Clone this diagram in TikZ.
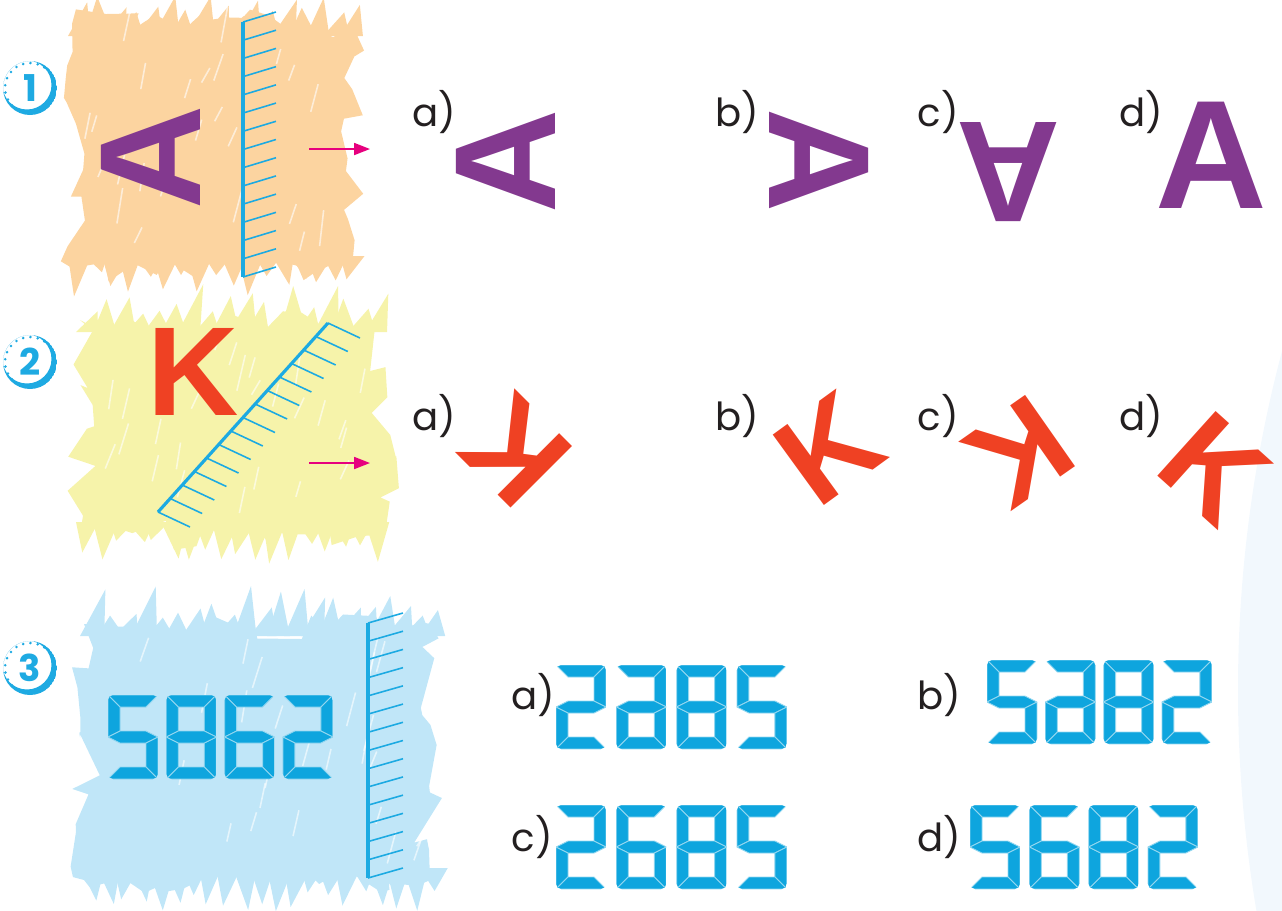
\documentclass[tikz,border=0pt]{standalone}
\usepackage{fontspec}
\setmainfont{Poppins}
\newfontfamily\letfont{Liberation Sans}
\usetikzlibrary{arrows.meta,calc,decorations.pathmorphing}
\definecolor{APurple}{RGB}{131,57,143}
\definecolor{KRed}{RGB}{239,65,35}
\definecolor{SegBlue}{RGB}{14,165,222}
\definecolor{MirBlue}{RGB}{28,170,226}
\definecolor{ArrMag}{RGB}{230,0,126}
\definecolor{NumBlue}{RGB}{30,170,226}
\definecolor{BgOrange}{RGB}{252,212,160}
\definecolor{BgYellow}{RGB}{246,243,170}
\definecolor{BgBlue}{RGB}{192,230,248}
\definecolor{FaintBlue}{RGB}{242,248,253}
\definecolor{LabGray}{RGB}{35,31,32}
\tikzset{
	mirror/.style={draw=MirBlue, line width=0.9pt},
	hatch/.style={draw=MirBlue, line width=0.45pt},
	look/.style={draw=ArrMag, line width=0.5pt, -{Triangle[length=4.5pt, width=3.4pt]}},
	lab/.style={anchor=base west, inner sep=0pt, text=LabGray, font=\fontsize{11}{13}\selectfont},
	bigA/.style={text=APurple, inner sep=0pt, font=\letfont\bfseries\fontsize{41}{41}\selectfont},
	bigK/.style={text=KRed, inner sep=0pt, font=\letfont\bfseries\fontsize{36}{36}\selectfont},
	seg/.style={fill=SegBlue, draw=white!55!SegBlue, line width=0.25pt},
	scrib/.style={decorate, decoration={random steps, segment length=5pt, amplitude=4.5pt}},
	streak/.style={draw=white, line width=0.45pt, opacity=.6},
	numtext/.style={text=NumBlue, inner sep=0pt, font=\bfseries\fontsize{10.5}{12}\selectfont}
}
% seven segment pieces, local pixels (y down)
\newcommand{\sega}{(0,0) -- (50,0) -- (38,12) -- (12,12) -- cycle}
\newcommand{\segb}{(50,0) -- (50,42) -- (38,36) -- (38,12) -- cycle}
\newcommand{\segc}{(50,42) -- (50,84) -- (38,72) -- (38,48) -- cycle}
\newcommand{\segd}{(0,84) -- (12,72) -- (38,72) -- (50,84) -- cycle}
\newcommand{\sege}{(0,42) -- (12,48) -- (12,72) -- (0,84) -- cycle}
\newcommand{\segf}{(0,0) -- (12,12) -- (12,36) -- (0,42) -- cycle}
\newcommand{\segg}{(0,42) -- (12,36) -- (38,36) -- (50,42) -- (38,48) -- (12,48) -- cycle}
\newcommand{\dtwo}{a,b,g,e,d}
\newcommand{\dfive}{a,f,g,c,d}
\newcommand{\dsix}{a,f,g,e,c,d}
\newcommand{\dmsix}{a,b,g,c,d,e}
\newcommand{\deight}{a,b,c,d,e,f,g}
\newcommand{\lcd}[3]{%
	\begin{scope}[shift={(#1,#2)}]
		\clip[rounded corners=1.5pt] (0,0) rectangle (50,84);
		\foreach \s in #3 {\path[seg] \csname seg\s\endcsname;}
	\end{scope}}
\newcommand{\lcdrow}[7]{%
	\lcd{#1}{#2}{#4}\lcd{#1+#3}{#2}{#5}\lcd{#1+2*#3}{#2}{#6}\lcd{#1+3*#3}{#2}{#7}}
\newcommand{\numdisc}[4]{%
	\begin{scope}
		\clip (#2,#3) circle (27);
		\fill[NumBlue, even odd rule] (#2,#3) circle (27) ($(#2,#3)+(-3,-3)$) circle (24.5);
	\end{scope}
	\draw[NumBlue, line width=0.8pt, line cap=round, dash pattern=on 0pt off 2.1pt] (#2,#3) circle (25);
	\node[numtext] (#1) at (#2,#3) {#4};}
% crayon patch: colour, left, top, width, bottom
\newcommand{\crayon}[5]{%
	\fill[#1, scrib] (#2,#3) rectangle ({#2+#4},#5);
	\foreach \p in {0,17,...,#4}{
		\fill[#1] ({#2+\p-4},{#3+12}) -- ({#2+\p+8+14*rnd},{#3-4-34*rnd}) -- ({#2+\p+18+6*rnd},{#3+12}) -- cycle;
		\fill[#1] ({#2+\p-4},{#5-12}) -- ({#2+\p+2+12*rnd},{#5+4+28*rnd}) -- ({#2+\p+18+6*rnd},{#5-12}) -- cycle;
	}
	\foreach \i in {1,...,26}{
		\draw[streak] ({#2+10+(#4-20)*rnd},{#3+15+(#5-#3-30)*rnd}) -- ++({4+6*rnd},{-14-22*rnd});
	}}

\begin{document}
\begin{tikzpicture}[x=0.1mm, y=-0.1mm]
	\useasboundingbox (0,0) rectangle (1282,910);
	\fill[FaintBlue] (2555,690) circle (1317);

	\pgfmathsetseed{11}
	\crayon{BgOrange}{72}{24}{280}{268}
	\crayon{BgYellow}{80}{320}{305}{534}
	\crayon{BgBlue}{84}{624}{346}{880}

	% mirrors
	\coordinate (m1t) at (243,22);
	\coordinate (m1b) at (243,277);
	\coordinate (m2t) at (328,323);
	\coordinate (m2b) at (158,512);
	\coordinate (m3t) at (368,623);
	\coordinate (m3b) at (368,878);
	\foreach \k in {0,...,14}{
		\draw[hatch] ($(m1t)!\k/14!(m1b)$) -- ++(33,-10);
		\draw[hatch] ($(m2t)!\k/14!(m2b)$) -- ++(32,15);
		\draw[hatch] ($(m3t)!\k/14!(m3b)$) -- ++(35,-10);
	}
	\draw[mirror] (m1t) -- (m1b);
	\draw[mirror] (m2t) -- (m2b);
	\draw[mirror] (m3t) -- (m3b);

	\coordinate (look1s) at (309,149);
	\coordinate (look1e) at (370,149);
	\coordinate (look2s) at (309,463);
	\coordinate (look2e) at (370,463);
	\draw[look] (look1s) -- (look1e);
	\draw[look] (look2s) -- (look2e);

	% task 1
	\numdisc{n1}{30}{88}{1}
	\node[bigA, rotate=90] (A0) at (151,157) {A};
	\node[lab] (la1) at (412,126) {a)};
	\node[lab] (lb1) at (715,126) {b)};
	\node[lab] (lc1) at (917,126) {c)};
	\node[lab] (ld1) at (1119,126) {d)};
	\node[bigA, rotate=90] (A1) at (506,161) {A};
	\node[bigA, rotate=-90] (A2) at (819,161) {A};
	\node[bigA, rotate=180] (A3) at (1008,172) {A};
	\node[bigA, font=\letfont\bfseries\fontsize{44}{44}\selectfont] (A4) at (1211,155) {A};

	% task 2
	\numdisc{n2}{30}{362}{2}
	\node[bigK] (K0) at (193,372) {K};
	\node[lab] (la2) at (412,430) {a)};
	\node[lab] (lb2) at (715,430) {b)};
	\node[lab] (lc2) at (917,430) {c)};
	\node[lab] (ld2) at (1119,430) {d)};
	\node[bigK, rotate=135] (K1) at (515,451) {K};
	\node[bigK, rotate=36] (K2) at (829,448) {K};
	\node[bigK, rotate=-145] (K3) at (1020,452) {K};
	\node[bigK, rotate=-42] (K4) at (1215,469) {K};

	% task 3
	\numdisc{n3}{30}{668}{3}
	\lcdrow{108}{695}{58.3}{\dfive}{\deight}{\dsix}{\dtwo}
	\node[lab] (la3) at (511,709) {a)};
	\node[lab] (lb3) at (917,709) {b)};
	\node[lab] (lc3) at (511,851) {c)};
	\node[lab] (ld3) at (917,851) {d)};
	\lcdrow{556}{665}{60.3}{\dtwo}{\dmsix}{\deight}{\dfive}
	\lcdrow{987}{660}{58.3}{\dfive}{\dmsix}{\deight}{\dtwo}
	\lcdrow{556}{805}{60.3}{\dtwo}{\dsix}{\deight}{\dfive}
	\lcdrow{970}{805}{59.3}{\dfive}{\dsix}{\deight}{\dtwo}
\end{tikzpicture}
\end{document}
